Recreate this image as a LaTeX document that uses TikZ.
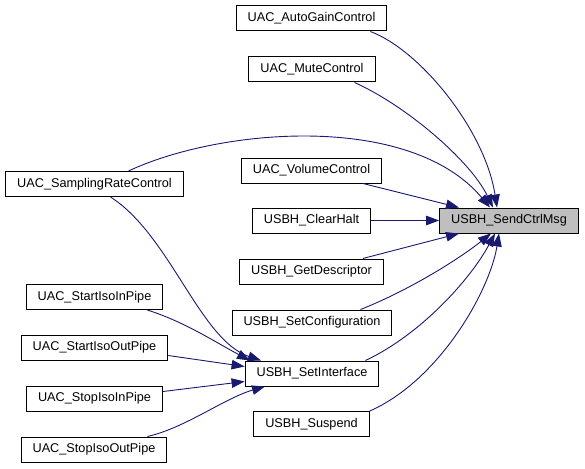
\documentclass[tikz,border=0pt]{standalone}
\usepackage{fontspec}
\setmainfont{Liberation Sans}
\usepackage{xcolor}
\usetikzlibrary{arrows.meta}

\definecolor{edgeblue}{HTML}{191970}
\definecolor{boxgray}{HTML}{BFBFBF}

\begin{document}
\begin{tikzpicture}[
    x=1pt, y=-1pt,
    fn/.style={draw, line width=1pt, fill=white, minimum height=25pt,
        inner xsep=11.5pt, font=\fontsize{12.7}{15}\selectfont},
    callarrow/.style={draw=edgeblue, line width=0.9pt,
        -{Triangle[length=13pt, width=9.5pt]}, fill=none}
]
    \useasboundingbox (0,0) rectangle (585,468);

    % callee
    \node[fn, fill=boxgray] (send) at (509,220.5) {USBH\_SendCtrlMsg};

    % direct callers
    \node[fn] (agc)     at (311.5,18.5)  {UAC\_AutoGainControl};
    \node[fn] (mute)    at (312,69.5)    {UAC\_MuteControl};
    \node[fn] (vol)     at (311.5,170.5) {UAC\_VolumeControl};
    \node[fn] (clrhalt) at (311.5,220.5) {USBH\_ClearHalt};
    \node[fn] (getdesc) at (311.5,271.5) {USBH\_GetDescriptor};
    \node[fn] (setconf) at (312,322.5)   {USBH\_SetConfiguration};
    \node[fn] (setif)   at (312,373.5)   {USBH\_SetInterface};
    \node[fn] (susp)    at (311.5,424)   {USBH\_Suspend};

    % callers on the left
    \node[fn] (samp)     at (94.5,184)   {UAC\_SamplingRateControl};
    \node[fn] (startin)  at (94.5,297)   {UAC\_StartIsoInPipe};
    \node[fn] (startout) at (94.5,347.5) {UAC\_StartIsoOutPipe};
    \node[fn] (stopin)   at (94.5,398.5) {UAC\_StopIsoInPipe};
    \node[fn] (stopout)  at (94,449.5)   {UAC\_StopIsoOutPipe};

    % into USBH_SendCtrlMsg
    \draw[callarrow] ([xshift=-17pt]agc.south east)
        .. controls (420,50) and (485,130) .. ([xshift=-12pt]send.north);
    \draw[callarrow] ([xshift=-21pt]mute.south east)
        .. controls (405,105) and (470,160) .. ([xshift=-16pt]send.north);
    \draw[callarrow] ([xshift=34pt]samp.north)
        .. controls (220,128) and (410,112) .. ([xshift=-19pt]send.north);
    \draw[callarrow] ([xshift=-19pt]vol.south east) -- ([xshift=-50pt]send.north);
    \draw[callarrow] (clrhalt) -- (send);
    \draw[callarrow] ([xshift=-21pt]getdesc.north east) -- ([xshift=-50pt]send.south);
    \draw[callarrow] ([xshift=-32pt]setconf.north east)
        .. controls (405,292) and (455,262) .. ([xshift=-18pt]send.south);
    \draw[callarrow] ([xshift=-14pt]setif.north east)
        .. controls (420,335) and (470,280) .. ([xshift=-14pt]send.south);
    \draw[callarrow] (susp.north east)
        .. controls (440,380) and (490,290) .. ([xshift=-10pt]send.south);

    % into USBH_SetInterface
    \draw[callarrow] ([xshift=16pt]samp.south)
        .. controls (170,235) and (200,340) .. ([xshift=-51pt]setif.north);
    \draw[callarrow] ([xshift=-16pt]startin.south east)
        .. controls (185,322) and (215,342) .. ([xshift=-62pt]setif.north);
    \draw[callarrow] ([yshift=-8pt]startout.east) -- ([yshift=7pt]setif.west);
    \draw[callarrow] ([yshift=7pt]stopin.east) -- ([yshift=-8pt]setif.west);
    \draw[callarrow] ([xshift=-20pt]stopout.north east)
        .. controls (185,428) and (225,398) .. ([xshift=-47pt]setif.south);
\end{tikzpicture}
\end{document}
